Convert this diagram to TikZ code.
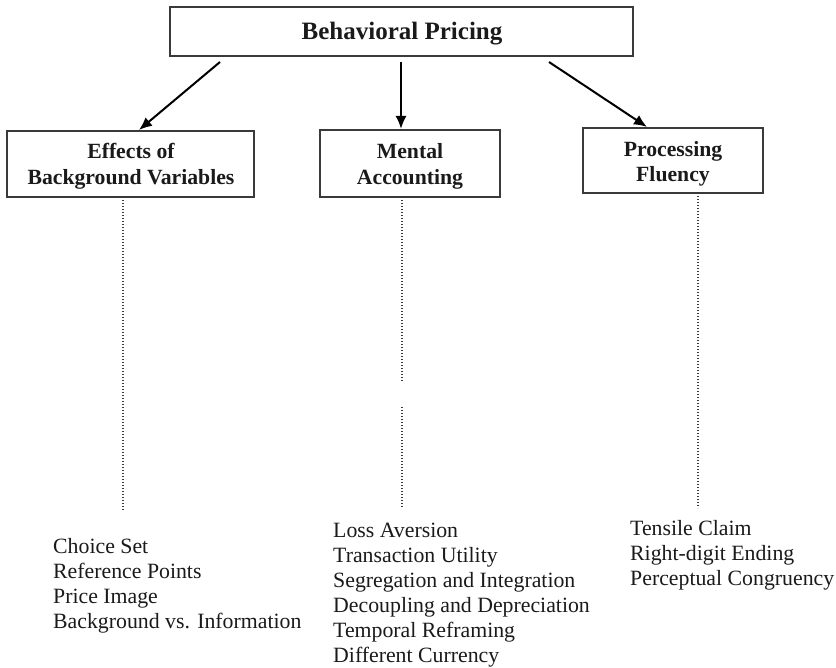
\documentclass[tikz,border=0pt]{standalone}
\usepackage{fontspec}
\setmainfont{Liberation Serif}
\usetikzlibrary{arrows.meta}
\definecolor{boxline}{HTML}{3A3A3A}
\definecolor{ink}{HTML}{1A1A1A}
\begin{document}
\begin{tikzpicture}[x=1pt,y=-1pt,
  box/.style={draw=boxline,line width=1.6pt},
  headtext/.style={font=\bfseries\fontsize{25}{30}\selectfont,text=ink,inner sep=0pt,anchor=base},
  boxtext/.style={font=\bfseries\fontsize{21.7}{26}\selectfont,text=ink,inner sep=0pt,anchor=base},
  item/.style={font=\fontsize{21.8}{25}\selectfont,text=ink,inner sep=0pt,anchor=base west},
  branch/.style={draw=black,line width=2pt,-{Latex[length=13pt,width=11pt]}},
  leader/.style={draw=boxline,line width=1.3pt,dash pattern=on 1.3pt off 1.7pt}]
\useasboundingbox (0,0) rectangle (836,668);

% boxes
\draw[box] (170,7) rectangle (633,56);
\draw[box] (7,131) rectangle (254,197);
\draw[box] (320,130) rectangle (500,197);
\draw[box] (583,128) rectangle (763,193);

% box labels
\node[headtext] (title) at (402,40) {Behavioral Pricing};
\node[boxtext] (bgA) at (131,159) {Effects of};
\node[boxtext] (bgB) at (131,185) {Background Variables};
\node[boxtext] (maA) at (410,159) {Mental};
\node[boxtext] (maB) at (410,185) {Accounting};
\node[boxtext] (pfA) at (673,157) {Processing};
\node[boxtext] (pfB) at (673,182) {Fluency};

% branch arrows
\coordinate (s1) at (220,62);  \coordinate (e1) at (139,130);
\coordinate (s2) at (401,62);  \coordinate (e2) at (401,129);
\coordinate (s3) at (549,62);  \coordinate (e3) at (647,127);
\draw[branch] (s1) -- (e1);
\draw[branch] (s2) -- (e2);
\draw[branch] (s3) -- (e3);

% dotted leaders
\coordinate (d1a) at (123,200); \coordinate (d1b) at (123,510);
\coordinate (d2a) at (402,200); \coordinate (d2b) at (402,382);
\coordinate (d2c) at (402,407); \coordinate (d2d) at (402,507);
\coordinate (d3a) at (698,196); \coordinate (d3b) at (698,508);
\draw[leader] (d1a) -- (d1b);
\draw[leader] (d2a) -- (d2b);
\draw[leader] (d2c) -- (d2d);
\draw[leader] (d3a) -- (d3b);

% item lists
\foreach \t [count=\i from 0] in {Choice Set,Reference Points,Price Image,Background vs. Information}
  \node[item] (left\i) at (53,553+25*\i) {\t};
\foreach \t [count=\i from 0] in {Loss Aversion,Transaction Utility,Segregation and Integration,Decoupling and Depreciation,Temporal Reframing,Different Currency}
  \node[item] (mid\i) at (333,537+25*\i) {\t};
\foreach \t [count=\i from 0] in {Tensile Claim,Right-digit Ending,Perceptual Congruency}
  \node[item] (right\i) at (630,535+25*\i) {\t};
\end{tikzpicture}
\end{document}
